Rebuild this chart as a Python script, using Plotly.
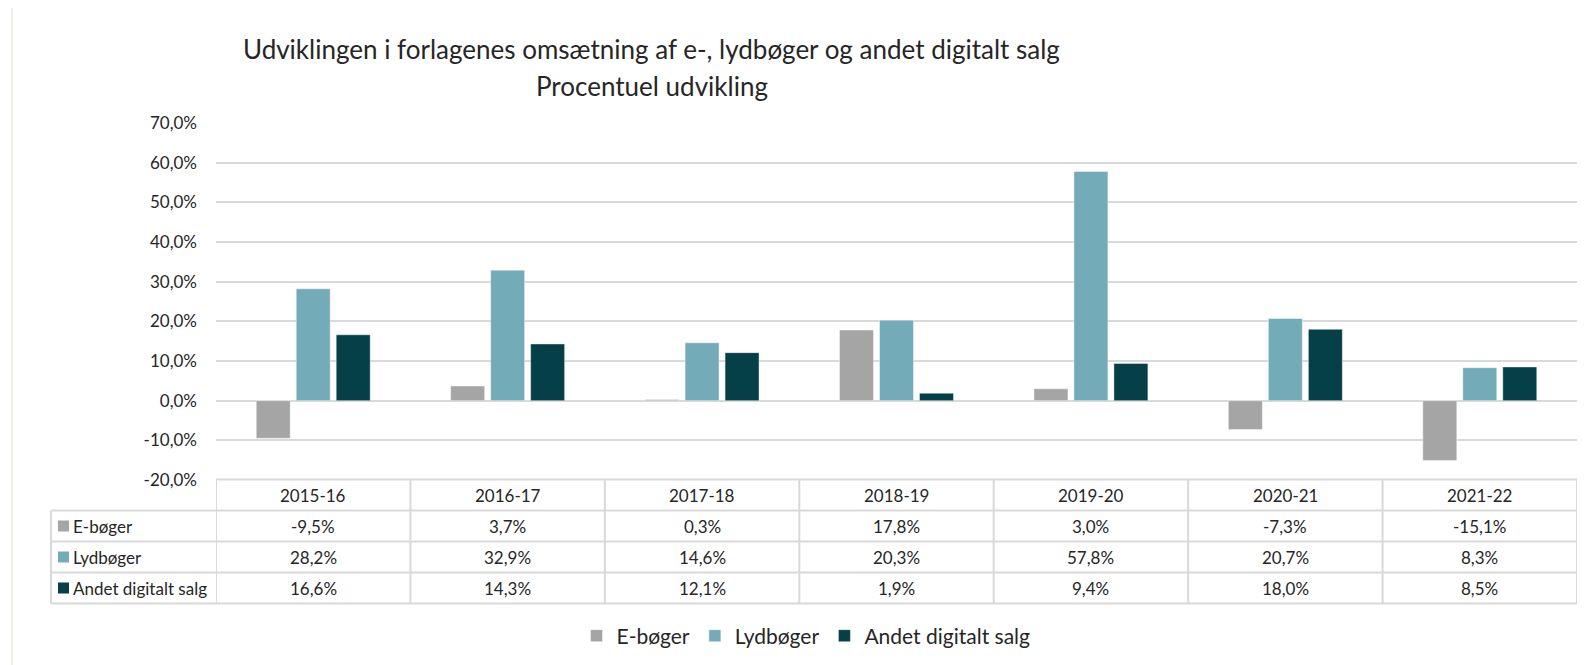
import plotly.graph_objects as go

# ---------------- data ----------------
categories = ["2015-16", "2016-17", "2017-18", "2018-19", "2019-20", "2020-21", "2021-22"]
series_names = ["E-bøger", "Lydbøger", "Andet digitalt salg"]
ebooks = [-9.5, 3.7, 0.3, 17.8, 3.0, -7.3, -15.1]
audiobooks = [28.2, 32.9, 14.6, 20.3, 57.8, 20.7, 8.3]
other_digital = [16.6, 14.3, 12.1, 1.9, 9.4, 18.0, 8.5]
y_ticks = [-20, -10, 0, 10, 20, 30, 40, 50, 60, 70]
title_line1 = "Udviklingen i forlagenes omsætning af e-, lydbøger og andet digitalt salg"
title_line2 = "Procentuel udvikling"

colors = ["#A5A5A5", "#74ABB8", "#053F48"]
series_values = [ebooks, audiobooks, other_digital]


def fmt(v):
    return f"{v:.1f}".replace(".", ",") + "%"


# ---------------- layout geometry (page pixels; body has 8px margin) ----------------
OFF = 8
W, H = 1595 - OFF, 665 - OFF
ML = 216 - OFF
MT = 123 - OFF
PLOT_RIGHT = 1577 - OFF
PLOT_BOTTOM = 480 - OFF
MR = W - PLOT_RIGHT
MB = H - PLOT_BOTTOM
PW = W - ML - MR
PH = H - MT - MB


def px2x(px):
    return (px - OFF - ML) / PW


def px2y(py):
    return (PLOT_BOTTOM - (py - OFF)) / PH


FONT = "Lato, 'Noto Sans', sans-serif"
TXT = "#262626"
GRID = "#D9D9D9"

fig = go.Figure()
for name, vals, col in zip(series_names, series_values, colors):
    fig.add_trace(go.Bar(
        x=categories, y=vals, name=name,
        marker=dict(color=col, line=dict(color="rgba(255,255,255,0.55)", width=0.8)),
        hoverinfo="x+y+name",
    ))

shapes = []
annotations = []

# outer chart border
shapes.append(dict(type="rect", xref="paper", yref="paper",
                   x0=px2x(12), x1=px2x(1610), y0=px2y(7), y1=px2y(690),
                   line=dict(color="#E4E4DA", width=1.2), fillcolor="rgba(0,0,0,0)", layer="below"))

# table geometry (page px)
table_top = 479.5
row_h = 31
header_bottom = table_top + row_h
rows_y = [header_bottom + i * row_h for i in range(4)]
left_x = 51
line_style = dict(color=GRID, width=2)

shapes.append(dict(type="line", xref="paper", yref="paper", x0=0, x1=1,
                   y0=px2y(table_top), y1=px2y(table_top), line=line_style))
for yy in rows_y:
    shapes.append(dict(type="line", xref="paper", yref="paper", x0=px2x(left_x), x1=1,
                       y0=px2y(yy), y1=px2y(yy), line=line_style))
for k in range(len(categories) + 1):
    shapes.append(dict(type="line", xref="x", yref="paper", x0=k - 0.5, x1=k - 0.5,
                       y0=px2y(table_top), y1=px2y(rows_y[-1]), line=line_style))
shapes.append(dict(type="line", xref="paper", yref="paper", x0=px2x(left_x), x1=px2x(left_x),
                   y0=px2y(header_bottom), y1=px2y(rows_y[-1]), line=line_style))

TFS = 17
for i, c in enumerate(categories):
    annotations.append(dict(xref="x", yref="paper", x=i, y=px2y(table_top + row_h / 2),
                            text=c, showarrow=False, font=dict(size=TFS, color=TXT, family=FONT),
                            xanchor="center", yanchor="middle"))

for r, (name, vals, col) in enumerate(zip(series_names, series_values, colors)):
    yc = header_bottom + r * row_h + row_h / 2
    shapes.append(dict(type="rect", xref="paper", yref="paper",
                       x0=px2x(58), x1=px2x(69), y0=px2y(yc - 5.5), y1=px2y(yc + 5.5),
                       fillcolor=col, line=dict(width=0)))
    annotations.append(dict(xref="paper", yref="paper", x=px2x(71), y=px2y(yc),
                            text=name, showarrow=False, font=dict(size=TFS, color=TXT, family=FONT),
                            xanchor="left", yanchor="middle"))
    for i, v in enumerate(vals):
        annotations.append(dict(xref="x", yref="paper", x=i, y=px2y(yc),
                                text=fmt(v), showarrow=False,
                                font=dict(size=TFS, color=TXT, family=FONT),
                                xanchor="center", yanchor="middle"))

# title
annotations.append(dict(xref="paper", yref="paper", x=px2x(651), y=px2y(49), text=title_line1,
                        showarrow=False, font=dict(size=26, color=TXT, family=FONT),
                        xanchor="center", yanchor="middle"))
annotations.append(dict(xref="paper", yref="paper", x=px2x(652), y=px2y(86), text=title_line2,
                        showarrow=False, font=dict(size=26, color=TXT, family=FONT),
                        xanchor="center", yanchor="middle"))

fig.update_layout(
    width=W, height=H,
    margin=dict(l=ML, r=MR, t=MT, b=MB, autoexpand=False),
    paper_bgcolor="white", plot_bgcolor="white",
    barmode="group", bargap=0.383, bargroupgap=0.15,
    font=dict(family=FONT, color=TXT),
    shapes=shapes, annotations=annotations,
    showlegend=True,
    legend=dict(orientation="h", x=px2x(806), xanchor="center", y=px2y(636), yanchor="middle",
                font=dict(size=21, color=TXT, family=FONT), bgcolor="rgba(0,0,0,0)",
                itemwidth=30, traceorder="normal"),
    xaxis=dict(range=[-0.5, len(categories) - 0.5], showticklabels=False, showgrid=False,
               zeroline=False, showline=False, ticks=""),
    yaxis=dict(range=[-20, 70], tickmode="array", tickvals=y_ticks,
               ticktext=[fmt(t) for t in y_ticks],
               showgrid=True, gridcolor=GRID, gridwidth=1.6, zeroline=False, showline=False,
               ticklabelstandoff=18, tickfont=dict(size=17, color=TXT, family=FONT)),
)

fig.write_html("out.html")
